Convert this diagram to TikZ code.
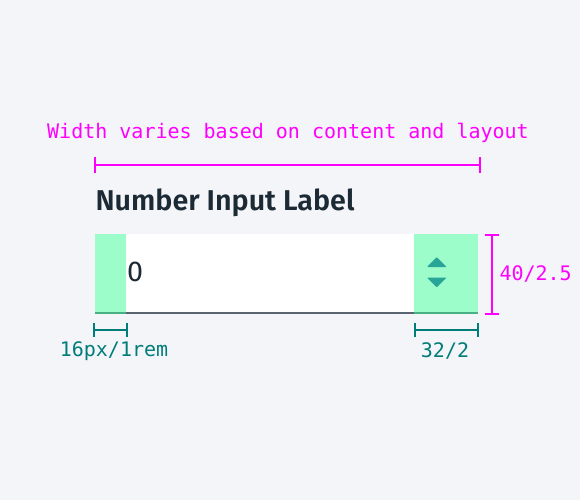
\documentclass[tikz,border=0pt]{standalone}
\usepackage{fontspec}
\setmainfont{Fira Sans}
\newfontfamily\specmono{DejaVu Sans Mono}
\newfontfamily\labelfnt{Fira Sans SemiBold}

\definecolor{pagebg}{HTML}{F4F5F9}
\definecolor{specmag}{HTML}{FF00FF}
\definecolor{specteal}{HTML}{007D79}
\definecolor{labelink}{HTML}{1C2A35}
\definecolor{fieldline}{HTML}{5A6470}
\definecolor{padgreen}{HTML}{3AFD98}
\definecolor{caretteal}{HTML}{28A597}

\tikzset{every picture/.style={line width=0.75pt}}
\tikzset{
  magdim/.style={draw=specmag, line width=1.5pt},
  tealdim/.style={draw=specteal, line width=1.5pt},
  magnote/.style={text=specmag, inner sep=0pt, font=\specmono\fontsize{15}{18}\selectfont},
  tealnote/.style={text=specteal, inner sep=0pt, font=\specmono\fontsize{15}{18}\selectfont},
  padfill/.style={fill=padgreen, fill opacity=0.5},
  caret/.style={fill=caretteal, rounded corners=0.6pt}
}

\begin{document}
\begin{tikzpicture}[x=0.75pt,y=0.75pt,yscale=-1,xscale=1]
        %set diagram size: 580 x 500
        \path[fill=pagebg, use as bounding box] (0,0) rectangle (580,500);

        %Text: width note
        \node[magnote] (widthnote) at (288,133) {Width varies based on content and layout};
        %Straight Lines: width dimension
        \coordinate (wleft) at (95,165);
        \coordinate (wright) at (480,165);
        \draw[magdim] (wleft) -- (wright);
        \draw[magdim] ([yshift=-6]wleft) -- ([yshift=6]wleft);
        \draw[magdim] ([yshift=-6]wright) -- ([yshift=6]wright);

        %Text: field label
        \node[anchor=base west, inner sep=0pt, text=labelink, font=\labelfnt\fontsize{21.5}{24}\selectfont] (fieldlabel) at (95,210.5) {Number Input Label};

        %Shape: Rectangle (input field)
        \fill[white] (95,234) rectangle (478,313);
        \coordinate (lineleft) at (95,312.5);
        \coordinate (lineright) at (478,312.5);
        \draw[fieldline, line width=1.5pt] (lineleft) -- (lineright);
        %Shape: Rectangle (padding areas)
        \fill[padfill] (95,234) rectangle (126,313.5);
        \fill[padfill] (414,234) rectangle (478,313.5);

        %Text: value
        \node[anchor=west, inner sep=0pt, text=labelink, font=\fontsize{21.5}{24}\selectfont] (fieldvalue) at (126.5,272) {0};

        %Shape: Triangles (stepper)
        \fill[caret] (427,267) -- (446.5,267) -- (436.75,257) -- cycle;
        \fill[caret] (427,277.5) -- (446.5,277.5) -- (436.75,287.5) -- cycle;

        %Straight Lines: height dimension
        \coordinate (htop) at (492,235);
        \coordinate (hbot) at (492,314);
        \draw[magdim] (htop) -- (hbot);
        \draw[magdim] ([xshift=-5.5]htop) -- ([xshift=5.5]htop);
        \draw[magdim] ([xshift=-5.5]hbot) -- ([xshift=5.5]hbot);
        \node[magnote, anchor=west] (heightnote) at (499,274) {40/2.5};

        %Straight Lines: left padding dimension
        \coordinate (pleft) at (94,330);
        \coordinate (pright) at (126.5,330);
        \draw[tealdim] (pleft) -- (pright);
        \draw[tealdim] ([yshift=-5]pleft) -- ([yshift=5]pleft);
        \draw[tealdim] ([yshift=-5]pright) -- ([yshift=5]pright);
        \node[tealnote] (padnote) at (114,351) {16px/1rem};

        %Straight Lines: stepper dimension
        \coordinate (sleft) at (414.5,330);
        \coordinate (sright) at (477.5,330);
        \draw[tealdim] (sleft) -- (sright);
        \draw[tealdim] ([yshift=-5]sleft) -- ([yshift=5]sleft);
        \draw[tealdim] ([yshift=-5]sright) -- ([yshift=5]sright);
        \node[tealnote] (stepnote) at (445,351) {32/2};

\end{tikzpicture}
\end{document}
